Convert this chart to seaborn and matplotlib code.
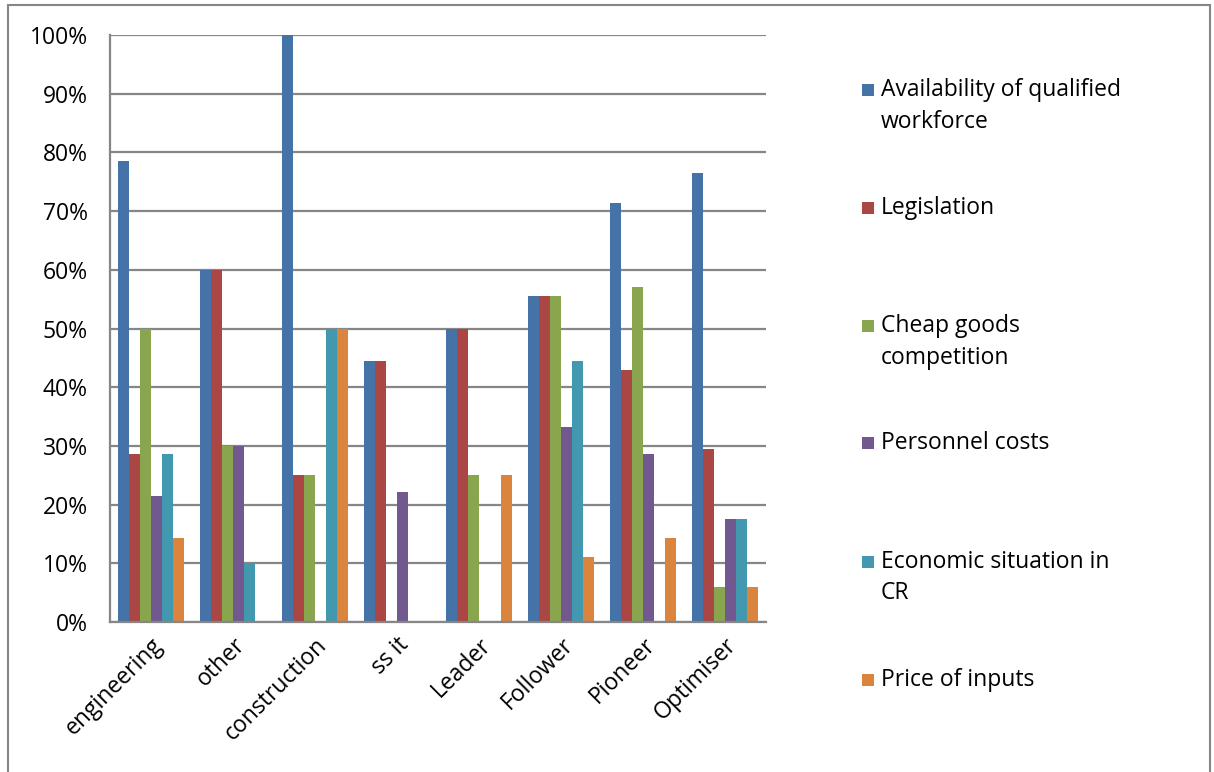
import matplotlib
matplotlib.use("Agg")
import matplotlib.pyplot as plt
import seaborn as sns
import pandas as pd
from matplotlib.patches import Rectangle
from matplotlib.ticker import PercentFormatter, FixedLocator

categories = ["engineering", "other", "construction", "ss it", "Leader", "Follower", "Pioneer", "Optimiser"]
series = ["Availability of qualified workforce", "Legislation", "Cheap goods competition",
          "Personnel costs", "Economic situation in CR", "Price of inputs"]
legend_labels = ["Availability of qualified\nworkforce", "Legislation", "Cheap goods\ncompetition",
                 "Personnel costs", "Economic situation in\nCR", "Price of inputs"]

availability = [0.786, 0.60, 1.00, 0.444, 0.50, 0.556, 0.714, 0.765]
legislation  = [0.286, 0.60, 0.25, 0.444, 0.50, 0.556, 0.429, 0.294]
cheap_goods  = [0.50, 0.30, 0.25, 0.0, 0.25, 0.556, 0.571, 0.059]
personnel    = [0.214, 0.30, 0.0, 0.222, 0.0, 0.333, 0.286, 0.176]
economic     = [0.286, 0.10, 0.50, 0.0, 0.0, 0.444, 0.0, 0.176]
price_inputs = [0.143, 0.0, 0.50, 0.0, 0.25, 0.111, 0.143, 0.059]

colors = ["#4572A7", "#AA4643", "#89A54E", "#71588F", "#4198AF", "#DB843D"]

values = [availability, legislation, cheap_goods, personnel, economic, price_inputs]
rows = []
for s, vals in zip(series, values):
    for c, v in zip(categories, vals):
        rows.append({"category": c, "series": s, "value": v})
df = pd.DataFrame(rows)

sns.set_style("white")
plt.rcParams["font.family"] = ["Open Sans", "DejaVu Sans"]

W, H = 1214, 772
fig = plt.figure(figsize=(W / 100, H / 100), dpi=100)
ax = fig.add_axes([110 / W, 1 - 622 / H, (766 - 110) / W, (622 - 35) / H])

sns.barplot(data=df, x="category", y="value", hue="series", order=categories,
            hue_order=series, palette=colors, width=0.8, ax=ax, legend=False,
            saturation=1, errorbar=None, linewidth=0)

grid_c = "#868686"
ax.set_ylim(0, 1.0)
ax.set_xlim(-0.5, len(categories) - 0.5)
ax.yaxis.set_major_locator(FixedLocator([i / 10 for i in range(11)]))
ax.yaxis.set_major_formatter(PercentFormatter(1.0, decimals=0))
ax.grid(axis="y", color=grid_c, linewidth=1.6)
ax.set_axisbelow(True)
ax.set_xlabel("")
ax.set_ylabel("")
for side in ["top", "right"]:
    ax.spines[side].set_visible(False)
for side in ["left", "bottom"]:
    ax.spines[side].set_color(grid_c)
    ax.spines[side].set_linewidth(1.6)

ax.tick_params(axis="y", length=9, width=1.6, color=grid_c, labelsize=16.5, pad=7, labelcolor="#000000")
ax.tick_params(axis="x", which="major", length=0, labelsize=16.5, pad=8, labelcolor="#000000")
ax.set_xticks([i + 0.5 for i in range(-1, len(categories))], minor=True)
ax.tick_params(axis="x", which="minor", length=8, width=1.6, color=grid_c, direction="out")
for lbl in ax.get_xticklabels():
    lbl.set_rotation(45)
    lbl.set_ha("right")
    lbl.set_rotation_mode("anchor")

# legend
line_ys = [[90, 122], [208], [326, 358], [443], [562, 593], [680]]
for lab, col, ys in zip(legend_labels, colors, line_ys):
    y0 = ys[0]
    fig.patches.append(Rectangle((862 / W, 1 - (y0 + 6) / H), 12 / W, 12 / H,
                                 transform=fig.transFigure, facecolor=col, edgecolor="none"))
    for t, y in zip(lab.split("\n"), ys):
        fig.text(881 / W, 1 - y / H, t, fontsize=16.5, va="center", ha="left", color="#000000")

# outer frame
fig.patches.append(Rectangle((8 / W, -0.02), (1210 - 8) / W, 1.02 - 5 / H, transform=fig.transFigure,
                             facecolor="none", edgecolor=grid_c, linewidth=1.5))

fig.savefig("out.png", dpi=100)
